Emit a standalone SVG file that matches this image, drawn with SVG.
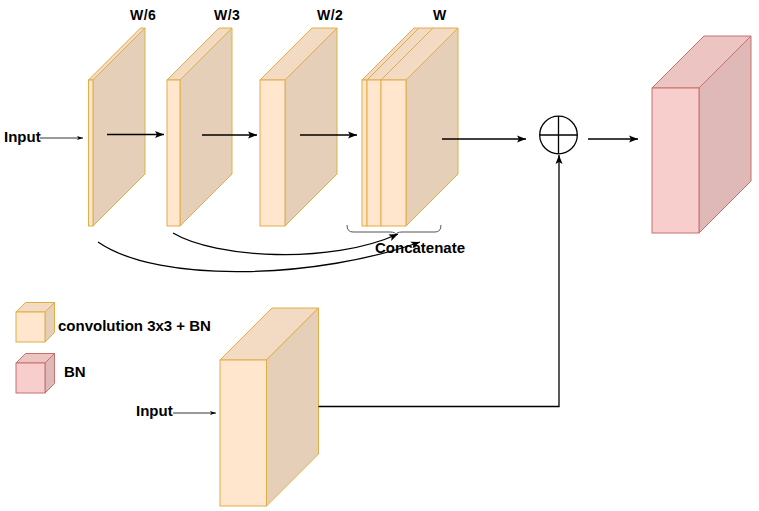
<svg xmlns="http://www.w3.org/2000/svg" width="759" height="511" viewBox="0 0 759 511">
<defs>
<style>
.fo{fill:#FFE6CC;stroke:#E0AE48;stroke-width:1}
.to{fill:#F2DBC2;stroke:#E0AE48;stroke-width:1}
.so{fill:#E6CFB8;stroke:#E0AE48;stroke-width:1}
.fp{fill:#F8CECC;stroke:#C8716C;stroke-width:1}
.tp{fill:#ECC4C2;stroke:#C8716C;stroke-width:1}
.sp{fill:#DFB9B8;stroke:#C8716C;stroke-width:1}
.lbl{font-family:"Liberation Sans",Arial,sans-serif;font-weight:bold;font-size:15px;fill:#000}
.wl{font-family:"Liberation Sans",Arial,sans-serif;font-weight:bold;font-size:14px;fill:#000;letter-spacing:0.5px}
.ln{fill:none;stroke:#000;stroke-width:1.3}
.thin{fill:none;stroke:#000;stroke-width:0.8}
</style>
<marker id="ah" markerWidth="10" markerHeight="8" refX="9" refY="4" orient="auto" markerUnits="userSpaceOnUse"><path d="M0,0.5 L9,4 L0,7.5 L2,4 Z" fill="#000"/></marker>
<marker id="ahs" markerWidth="7" markerHeight="5" refX="6" refY="2.5" orient="auto" markerUnits="userSpaceOnUse"><path d="M0,0.5 L6,2.5 L0,4.5 L1.5,2.5 Z" fill="#000"/></marker>
</defs>
<rect width="759" height="511" fill="#fff"/>

<g id="block-w6">
<polygon class="to" points="88.5,80 140.5,28 145,28 93,80"/>
<polygon class="so" points="93,80 145,28 145,174 93,226"/>
<rect class="fo" x="88.5" y="80" width="4.5" height="146"/>
<text class="wl" x="130" y="19.5">W/6</text>
</g>

<g id="block-w3">
<polygon class="to" points="167,80 219,28 232,28 180,80"/>
<polygon class="so" points="180,80 232,28 232,174 180,226"/>
<rect class="fo" x="167" y="80" width="13" height="146"/>
<text class="wl" x="214" y="19.5">W/3</text>
</g>

<g id="block-w2">
<polygon class="to" points="260,80 312,28 337,28 285,80"/>
<polygon class="so" points="285,80 337,28 337,174 285,226"/>
<rect class="fo" x="260" y="80" width="25" height="146"/>
<text class="wl" x="317" y="19.5">W/2</text>
</g>

<g id="block-w">
<polygon class="to" points="362,80 414,28 419,28 367,80"/>
<polygon class="so" points="367,80 419,28 419,174 367,226"/>
<rect class="fo" x="362" y="80" width="5" height="146"/>
<polygon class="to" points="367,80 419,28 433,28 381,80"/>
<polygon class="so" points="381,80 433,28 433,174 381,226"/>
<rect class="fo" x="367" y="80" width="14" height="146"/>
<polygon class="to" points="381,80 433,28 458,28 406,80"/>
<polygon class="so" points="406,80 458,28 458,174 406,226"/>
<rect class="fo" x="381" y="80" width="25" height="146"/>
<text class="wl" x="433" y="19.5">W</text>
</g>

<g id="concat-brace">
<path d="M347,225 Q347,232 353,232 L390,232 Q396,232 396,235 Q396,232 402,232 L435,232 Q441,232 441,225" fill="none" stroke="#555" stroke-width="1"/>
<text class="lbl" x="375" y="253">Concatenate</text>
</g>

<g id="sum">
<circle cx="558.5" cy="135" r="18.8" fill="#fff" stroke="#000" stroke-width="1.3"/>
<line x1="539.7" y1="135" x2="577.3" y2="135" stroke="#000" stroke-width="1.3"/>
<line x1="558.5" y1="116.2" x2="558.5" y2="153.8" stroke="#000" stroke-width="1.3"/>
</g>

<g id="block-bn">
<polygon class="tp" points="652,88 704,36 751,36 699,88"/>
<polygon class="sp" points="699,88 751,36 751,181 699,233"/>
<rect class="fp" x="652" y="88" width="47" height="145"/>
</g>

<g id="block-input2">
<polygon class="to" points="220,360 272,308 318.5,308 266.5,360"/>
<polygon class="so" points="266.5,360 318.5,308 318.5,454 266.5,506"/>
<rect class="fo" x="220" y="360" width="46.5" height="146"/>
</g>

<g id="input-top">
<text class="lbl" x="4" y="141.5">Input</text>
</g>
<g id="input-bottom">
<text class="lbl" x="136" y="415.5">Input</text>
</g>

<g id="legend-conv">
<polygon class="to" points="16,312 25.5,302.5 54.5,302.5 45,312"/>
<polygon class="so" points="45,312 54.5,302.5 54.5,332.5 45,342"/>
<rect class="fo" x="16" y="312" width="29" height="30"/>
<text class="lbl" x="58" y="330.5">convolution 3x3 + BN</text>
</g>

<g id="legend-bn">
<polygon class="tp" points="16,363 25.5,353.5 54.5,353.5 45,363"/>
<polygon class="sp" points="45,363 54.5,353.5 54.5,383.5 45,393"/>
<rect class="fp" x="16" y="363" width="29" height="30"/>
<text class="lbl" x="64" y="377">BN</text>
</g>

<g id="connectors">
<line class="thin" x1="40" y1="138" x2="83" y2="138" marker-end="url(#ahs)"/>
<line class="thin" x1="173" y1="413" x2="216" y2="413" marker-end="url(#ahs)"/>
<line class="ln" x1="107" y1="134.5" x2="164" y2="134.5" marker-end="url(#ah)"/>
<line class="ln" x1="202" y1="135" x2="257" y2="135" marker-end="url(#ah)"/>
<line class="ln" x1="300" y1="135" x2="357" y2="135" marker-end="url(#ah)"/>
<line class="ln" x1="442" y1="139" x2="526" y2="139" marker-end="url(#ah)"/>
<line class="ln" x1="588" y1="139" x2="638" y2="139" marker-end="url(#ah)"/>
<path class="ln" d="M318.5,406.5 L559,406.5 L559,155" marker-end="url(#ah)"/>
<path class="ln" d="M173,233 C215,258 330,265 398,234" marker-end="url(#ah)"/>
<path class="ln" d="M98,242 C160,285 320,278 420,242" marker-end="url(#ah)"/>
</g>
</svg>
